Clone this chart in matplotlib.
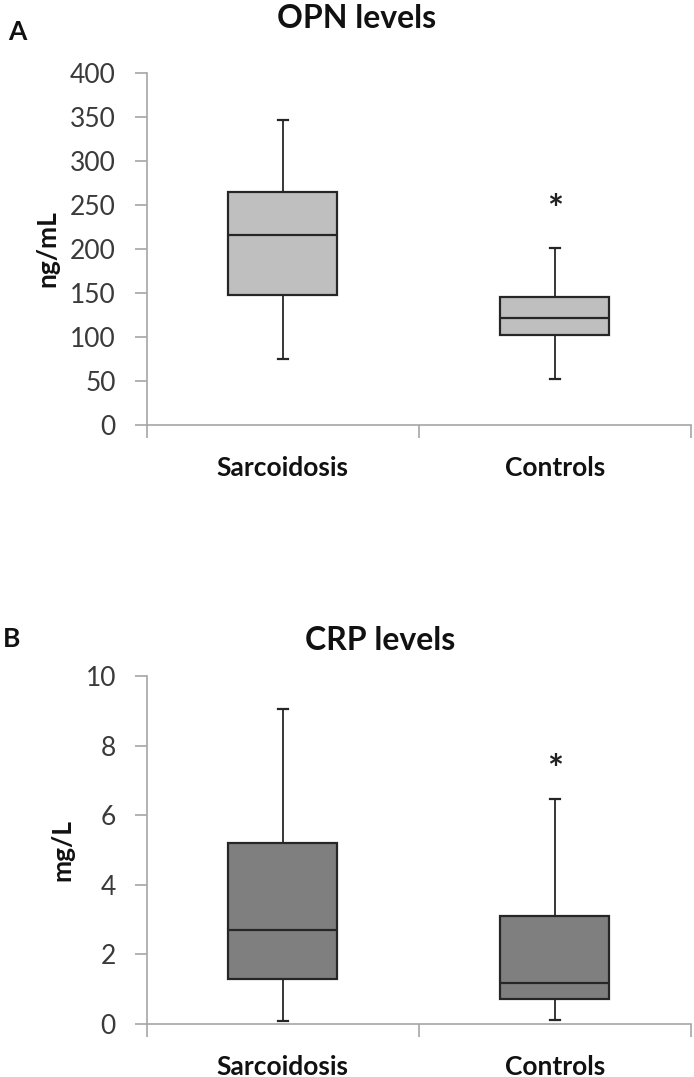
import numpy as np
import matplotlib
matplotlib.use("Agg")
import matplotlib.pyplot as plt

plt.rcParams['font.family'] = ['Lato', 'DejaVu Sans']

groups = ['Sarcoidosis', 'Controls']

# OPN (ng/mL) box summaries
opn_low = [75, 52]
opn_q1 = [148, 102]
opn_med = [216, 122]
opn_q3 = [265, 146]
opn_high = [347, 201]
opn_star = 256

# CRP (mg/L) box summaries
crp_low = [0.08, 0.12]
crp_q1 = [1.30, 0.72]
crp_med = [2.69, 1.17]
crp_q3 = [5.20, 3.11]
crp_high = [9.05, 6.47]
crp_star = 7.6

axis_grey = '#a6a6a6'
text_col = '#3a3a3a'
edge = '#262626'


def make_stats(low, q1, med, q3, high):
    out = []
    for i in range(len(groups)):
        out.append(dict(whislo=low[i], q1=q1[i], med=med[i], q3=q3[i],
                        whishi=high[i], label=groups[i]))
    return out


def panel(ax, stats, fill, ymax, ystep, ylabel, star_y):
    pos = np.arange(len(groups)) + 0.5
    ax.bxp(stats, positions=pos, widths=0.4, capwidths=0.037,
           patch_artist=True, showfliers=False,
           boxprops=dict(facecolor=fill, edgecolor=edge, linewidth=1.6),
           medianprops=dict(color=edge, linewidth=1.6),
           whiskerprops=dict(color=edge, linewidth=1.3),
           capprops=dict(color=edge, linewidth=1.6))
    # significance mark; the glyph sits high in its box, so nudge it down
    ax.annotate('*', (pos[1], star_y), xytext=(0, -8),
                textcoords='offset points', ha='center', va='center',
                fontsize=27, fontweight='bold', color='#222222')
    ax.set_xlim(0, len(groups))
    ax.set_ylim(0, ymax)
    ax.set_yticks(np.arange(0, ymax + ystep / 2, ystep))
    ax.set_xticks(np.arange(0, len(groups) + 1))
    ax.set_xticklabels([])
    ax.set_xticks(pos, minor=True)
    ax.set_xticklabels(groups, minor=True, fontsize=19, fontweight='bold',
                       color='#111111')
    ax.tick_params(axis='x', which='major', length=9, width=1.2,
                   color=axis_grey, direction='out')
    ax.tick_params(axis='x', which='minor', length=0, pad=22)
    ax.tick_params(axis='y', length=9, width=1.2, color=axis_grey,
                   labelsize=19, labelcolor=text_col, pad=13)
    for s in ['top', 'right']:
        ax.spines[s].set_visible(False)
    for s in ['left', 'bottom']:
        ax.spines[s].set_color(axis_grey)
        ax.spines[s].set_linewidth(1.2)
    ax.set_ylabel(ylabel, fontsize=19, fontweight='bold', labelpad=8,
                  color='#111111')


fig = plt.figure(figsize=(6.94, 10.77), dpi=100)
ax1 = fig.add_axes([146.5 / 694, 1 - 425 / 1077, 544.5 / 694, 352 / 1077])
ax2 = fig.add_axes([146.5 / 694, 1 - 1024 / 1077, 544.5 / 694, 348 / 1077])

panel(ax1, make_stats(opn_low, opn_q1, opn_med, opn_q3, opn_high),
      '#bfbfbf', 400, 50, 'ng/mL', opn_star)
panel(ax2, make_stats(crp_low, crp_q1, crp_med, crp_q3, crp_high),
      '#7f7f7f', 10, 2, 'mg/L', crp_star)

fig.text(357 / 694, 1 - 19 / 1077, 'OPN levels', ha='center', va='center',
         fontsize=23, fontweight='bold', color='#111111')
fig.text(380 / 694, 1 - 640 / 1077, 'CRP levels', ha='center', va='center',
         fontsize=23, fontweight='bold', color='#111111')
fig.text(17 / 694, 1 - 32 / 1077, 'A', ha='center', va='center',
         fontsize=19, fontweight='bold', color='#111111')
fig.text(12 / 694, 1 - 639 / 1077, 'B', ha='center', va='center',
         fontsize=19, fontweight='bold', color='#111111')

fig.savefig('out.png', dpi=100)
